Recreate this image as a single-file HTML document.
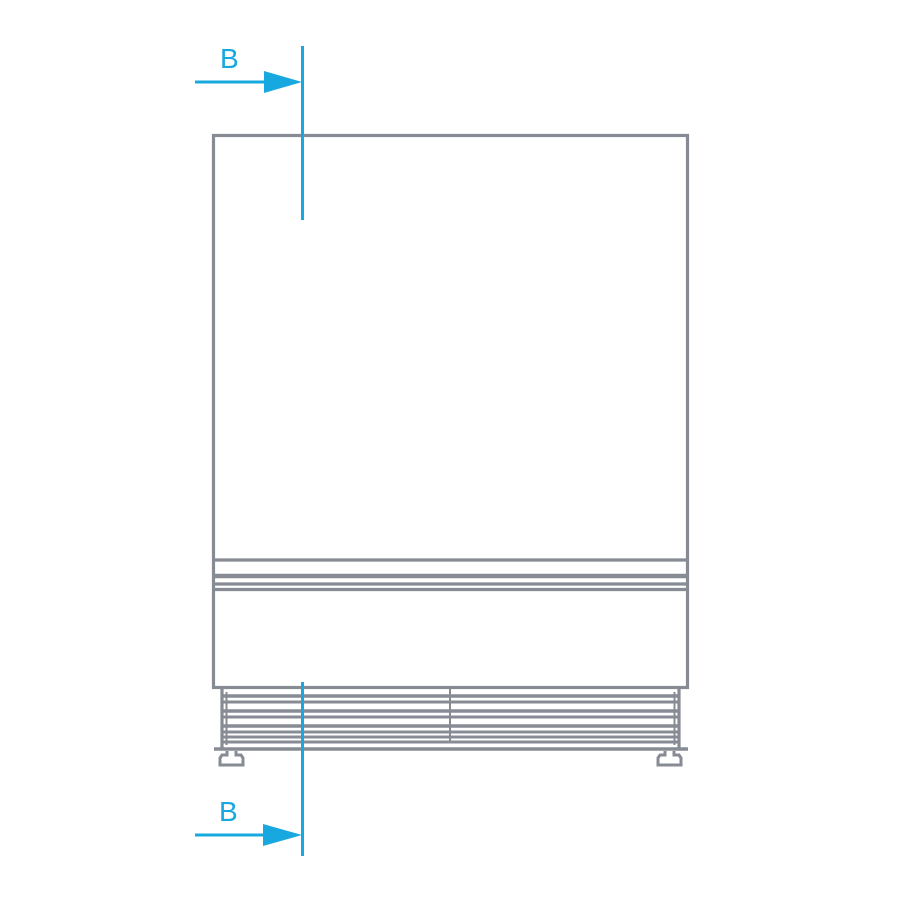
<!DOCTYPE html>
<html><head><meta charset="utf-8"><style>html,body{margin:0;padding:0;background:#fff}svg{display:block}</style></head>
<body>
<svg width="900" height="900" viewBox="0 0 900 900" xmlns="http://www.w3.org/2000/svg">
<g fill="none" stroke="#878b94" stroke-width="3.2">
<rect x="213.5" y="135.5" width="474" height="552"/>
<line x1="213" y1="560" x2="688" y2="560"/>
<line x1="213" y1="576" x2="688" y2="576" stroke-width="4.5"/>
<line x1="213" y1="584" x2="688" y2="584"/>
<line x1="213" y1="589.5" x2="688" y2="589.5"/>
<line x1="222" y1="688" x2="222" y2="750"/>
<line x1="679" y1="688" x2="679" y2="750"/>
<line x1="226.5" y1="692" x2="226.5" y2="745" stroke-width="2"/>
<line x1="674.5" y1="692" x2="674.5" y2="745" stroke-width="2"/>
<line x1="450" y1="688" x2="450" y2="742" stroke-width="2"/>
<line x1="222" y1="696" x2="679" y2="696" stroke-width="3.5"/>
<line x1="222" y1="702" x2="679" y2="702" stroke-width="3"/>
<line x1="222" y1="711" x2="679" y2="711" stroke-width="3.5"/>
<line x1="222" y1="717" x2="679" y2="717" stroke-width="3"/>
<line x1="222" y1="726" x2="679" y2="726" stroke-width="3.5"/>
<line x1="222" y1="732" x2="679" y2="732" stroke-width="3"/>
<line x1="222" y1="737" x2="679" y2="737" stroke-width="3"/>
<line x1="222" y1="742" x2="679" y2="742" stroke-width="3"/>
<line x1="214" y1="749" x2="688" y2="749" stroke-width="3.5"/>
<path d="M227 751 v4 h-5 l-2 3 v7 h23 v-7 l-2 -3 h-5 v-4" stroke-width="3"/>
<path d="M665 751 v4 h-5 l-2 3 v7 h23 v-7 l-2 -3 h-5 v-4" stroke-width="3"/>
</g>
<g stroke="#16a8de" stroke-width="3" fill="#16a8de">
<line x1="302.5" y1="46" x2="302.5" y2="220" fill="none"/>
<line x1="195" y1="82" x2="270" y2="82" fill="none"/>
<polygon points="264,71 302,82 264,93" stroke="none"/>
<line x1="302.5" y1="682" x2="302.5" y2="856" fill="none"/>
<line x1="195" y1="835" x2="270" y2="835" fill="none"/>
<polygon points="263,824 302,835 263,846" stroke="none"/>
</g>
<g font-family="Liberation Sans, sans-serif" font-size="28" fill="#16a8de">
<text x="220" y="68">B</text>
<text x="219" y="821">B</text>
</g>
</svg>
</body></html>
